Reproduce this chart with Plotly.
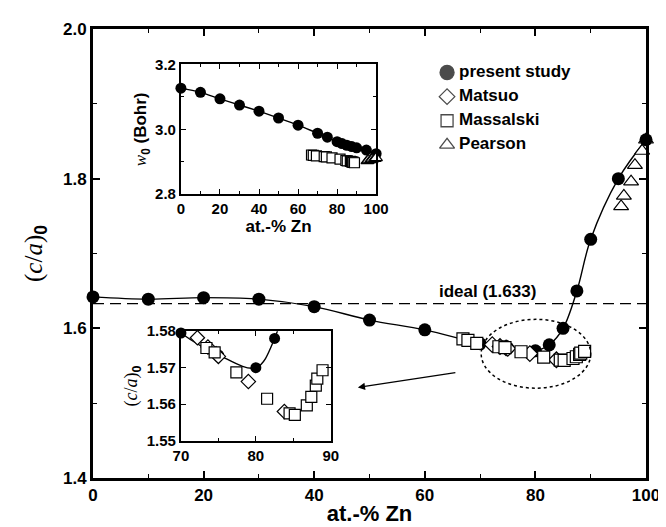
import numpy as np
import plotly.graph_objects as go

# ---------------- data ----------------
zn_present = np.array([0, 10, 20, 30, 40, 50, 60, 70, 75, 80, 82.5, 85, 87.5, 90, 95, 100])
ca_present = np.array([1.642, 1.639, 1.641, 1.639, 1.629, 1.611, 1.598, 1.5795, 1.5735,
                       1.570, 1.578, 1.600, 1.650, 1.719, 1.800, 1.852])
w0_present = np.array([3.127, 3.114, 3.094, 3.075, 3.056, 3.035, 3.013, 2.988, 2.976,
                       2.962, 2.956, 2.951, 2.947, 2.943, 2.936, 2.925])

zn_matsuo = np.array([72.2, 73.6, 74.7, 75.0, 79.0, 83.8])
ca_matsuo = np.array([1.5782, 1.5757, 1.5738, 1.5731, 1.5662, 1.5580])

zn_massalski = np.array([66.9, 67.8, 69.4, 73.4, 74.5, 77.4, 81.5, 84.5, 85.2, 86.8, 87.4, 88.0, 88.2, 88.9])
ca_massalski = np.array([1.586, 1.584, 1.580, 1.5754, 1.5742, 1.5687, 1.5615, 1.5575, 1.5571,
                         1.5597, 1.5620, 1.5651, 1.5670, 1.5693])
w0_massalski = np.array([2.921, 2.920, 2.918, 2.916, 2.915, 2.912, 2.908, 2.904, 2.903,
                         2.901, 2.900, 2.899, 2.898, 2.897])

zn_pearson = np.array([95.5, 96.0, 97.3, 98.0, 99.3, 100.0])
ca_pearson = np.array([1.763, 1.777, 1.796, 1.818, 1.837, 1.852])
w0_pearson = np.array([2.903, 2.905, 2.906, 2.908, 2.910, 2.912])

ideal_ca = 1.633
legend_labels = ["present study", "Matsuo", "Massalski", "Pearson"]

# ---------------- styles ----------------
SANS = "Liberation Sans"
BLACK = "black"

fig = go.Figure()


def sets(xa, ya, ys, size_c, size_o, xr=None, yr=None, mats=True, pearson_below=False):
    def m(x, y):
        if xr is None:
            return x, y
        k = (x >= xr[0] - 0.01) & (x <= xr[1] + 0.01) & (y >= yr[0] - 0.0005) & (y <= yr[1] + 0.0005)
        return x[k], y[k]
    yp, ymas, ype = ys
    fig.add_trace(go.Scatter(x=zn_present, y=yp, mode="lines",
                             line=dict(color=BLACK, width=1.4, shape="spline", smoothing=1.0),
                             xaxis=xa, yaxis=ya, showlegend=False, hoverinfo="skip"))

    def pearson():
        if ype is not None:
            x, y = m(zn_pearson, ype)
            fig.add_trace(go.Scatter(x=x, y=y, mode="markers",
                                     marker=dict(symbol="triangle-up", size=size_o + 1, color="white",
                                                 line=dict(color=BLACK, width=1.2)),
                                     xaxis=xa, yaxis=ya, showlegend=False, cliponaxis=False))
    if pearson_below:
        pearson()
    x, y = m(zn_present, yp)
    fig.add_trace(go.Scatter(x=x, y=y, mode="markers", marker=dict(symbol="circle", size=size_c, color=BLACK),
                             xaxis=xa, yaxis=ya, showlegend=False, cliponaxis=False))
    if mats:
        x, y = m(zn_matsuo, ca_matsuo)
        fig.add_trace(go.Scatter(x=x, y=y, mode="markers",
                                 marker=dict(symbol="diamond", size=size_o, color="white", line=dict(color=BLACK, width=1.2)),
                                 xaxis=xa, yaxis=ya, showlegend=False, cliponaxis=False))
    x, y = m(zn_massalski, ymas)
    fig.add_trace(go.Scatter(x=x, y=y, mode="markers",
                             marker=dict(symbol="square", size=size_o, color="white", line=dict(color=BLACK, width=1.2)),
                             xaxis=xa, yaxis=ya, showlegend=False, cliponaxis=False))
    if not pearson_below:
        pearson()


# main
sets("x", "y", (ca_present, ca_massalski, ca_pearson), 13, 12, pearson_below=True)
# upper inset (w0)
sets("x2", "y2", (w0_present, w0_massalski, w0_pearson), 11, 10, mats=False)
# lower inset (zoom)
sets("x3", "y3", (ca_present, ca_massalski, None), 11, 11, xr=(70, 90), yr=(1.55, 1.58))

# legend overlay (markers + labels)
leg_idx = np.arange(len(legend_labels))
fig.add_trace(go.Scatter(
    x=np.zeros(len(legend_labels)), y=leg_idx, mode="markers",
    marker=dict(symbol=["circle", "diamond", "square", "triangle-up"], size=[14, 12, 12, 13],
                color=[BLACK, "white", "white", "white"], line=dict(color=BLACK, width=1.3)),
    xaxis="x4", yaxis="y4", showlegend=False, cliponaxis=False))
fig.add_trace(go.Scatter(
    x=np.full(len(legend_labels), 12.0), y=leg_idx, mode="text", text=legend_labels,
    textposition="middle right",
    textfont=dict(family=SANS, size=17, color=BLACK, weight="bold"),
    xaxis="x4", yaxis="y4", showlegend=False, cliponaxis=False))

tickfont_main = dict(family=SANS, size=17, color=BLACK, weight="bold")
tickfont_in = dict(family=SANS, size=15, color=BLACK, weight="bold")

axis_common = dict(showgrid=False, zeroline=False, showline=True, linecolor=BLACK, mirror="ticks",
                   ticks="inside", tickcolor=BLACK)

ca_title = '<span style="font-family:Liberation Serif;font-weight:normal">(<i>c</i>/<i>a</i>)</span><sub>0</sub>'

fig.update_layout(
    width=666, height=527,
    margin=dict(l=85, r=28, t=18, b=53),
    paper_bgcolor="white", plot_bgcolor="white",
    font=dict(family=SANS, size=17, color=BLACK, weight="bold"),
    xaxis=dict(**axis_common, range=[0, 100], dtick=20, tick0=0, linewidth=3, ticklen=7, tickwidth=1.5,
               minor=dict(dtick=10, ticklen=4, ticks="inside", tickcolor=BLACK, tickwidth=1.2),
               tickfont=tickfont_main,
               title=dict(text="at.-% Zn", font=dict(family=SANS, size=22, color=BLACK, weight="bold"), standoff=2)),
    yaxis=dict(**axis_common, range=[1.4, 2.0], dtick=0.2, tick0=1.4, tickformat=".1f", linewidth=3, ticklen=7, tickwidth=1.5,
               minor=dict(dtick=0.1, ticklen=4, ticks="inside", tickcolor=BLACK, tickwidth=1.2),
               tickfont=tickfont_main,
               title=dict(text=ca_title, font=dict(family=SANS, size=25, color=BLACK, weight="bold"), standoff=14)),
    xaxis2=dict(**axis_common, domain=[0.159, 0.512], anchor="y2", range=[0, 100], dtick=20, tick0=0,
                linewidth=2, ticklen=5, tickwidth=1.2,
                minor=dict(dtick=10, ticklen=3, ticks="inside", tickcolor=BLACK),
                tickfont=tickfont_in,
                title=dict(text="at.-% Zn", font=dict(family=SANS, size=17, color=BLACK, weight="bold"), standoff=2)),
    yaxis2=dict(**axis_common, domain=[0.632, 0.921], anchor="x2", range=[2.8, 3.2], dtick=0.2, tick0=2.8,
                tickformat=".1f", linewidth=2, ticklen=5, tickwidth=1.2,
                minor=dict(dtick=0.1, ticklen=3, ticks="inside", tickcolor=BLACK),
                tickfont=tickfont_in,
                title=dict(text='<span style="font-family:Liberation Serif;font-weight:normal"><i>w</i></span><sub>0</sub> (Bohr)',
                           font=dict(family=SANS, size=17, color=BLACK, weight="bold"), standoff=4)),
    xaxis3=dict(**axis_common, domain=[0.159, 0.430], anchor="y3", range=[70, 90], dtick=10, tick0=70,
                linewidth=2, ticklen=5, tickwidth=1.2,
                minor=dict(dtick=5, ticklen=3, ticks="inside", tickcolor=BLACK),
                tickfont=tickfont_in),
    yaxis3=dict(**axis_common, domain=[0.083, 0.327], anchor="x3", range=[1.55, 1.58], dtick=0.01, tick0=1.55,
                tickformat=".2f", linewidth=2, ticklen=5, tickwidth=1.2,
                tickfont=tickfont_in,
                title=dict(text=ca_title, font=dict(family=SANS, size=18, color=BLACK, weight="bold"), standoff=4)),
    xaxis4=dict(domain=[0.624, 0.931], anchor="y4", range=[-9, 161], visible=False, fixedrange=True),
    yaxis4=dict(domain=[0.715, 0.930], anchor="x4", range=[3.5, -0.5], visible=False, fixedrange=True),
    shapes=[
        dict(type="line", xref="x", yref="y", x0=0, x1=100, y0=ideal_ca, y1=ideal_ca,
             line=dict(color=BLACK, width=1.4, dash="11px,6px")),
        dict(type="circle", xref="x", yref="y", x0=70.2, x1=90.0, y0=1.520, y1=1.612,
             line=dict(color=BLACK, width=1.5, dash="dot")),
    ],
    annotations=[
        dict(text="ideal (1.633)", xref="x", yref="y", x=71.3, y=ideal_ca, yanchor="bottom", yshift=1,
             showarrow=False, font=dict(family=SANS, size=17, color=BLACK, weight="bold")),
        dict(text="", xref="x", yref="y", x=47.9, y=1.521, axref="x", ayref="y", ax=65.8, ay=1.541,
             showarrow=True, arrowhead=2, arrowsize=1.1, arrowwidth=1.3, arrowcolor=BLACK),
    ],
)

fig.write_html("out.html")
